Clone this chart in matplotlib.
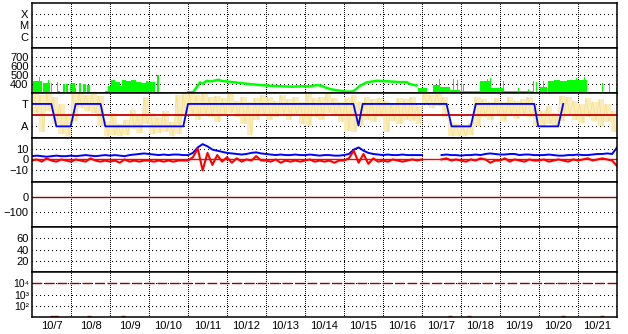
import numpy as np
import matplotlib.pyplot as plt
from matplotlib.ticker import FixedLocator, NullLocator, NullFormatter

plt.rcParams['font.family'] = ['Liberation Sans', 'DejaVu Sans']

# --- data, time in hours from 10/7 00:00 ---
day_labels = ['10/7', '10/8', '10/9', '10/10', '10/11', '10/12', '10/13', '10/14',
              '10/15', '10/16', '10/17', '10/18', '10/19', '10/20', '10/21']

# solar wind speed: noisy periods as bars (start, end, top), quiet period as line
wind_bar_start = [0.6, 4.4, 7.0, 9.8, 11.6, 15.2, 16.0, 19.1, 21.1, 23.2, 24.8, 26.3, 28.7, 31.4, 34.0,
                  44.7, 46.8, 48.8, 50.9, 54.0, 55.4, 58.0, 61.0, 64.0, 67.3, 70.4, 71.4, 76.7, 95.6,
                  237.8, 247.0, 250.4, 251.0, 257.3, 259.0, 261.5, 263.4, 264.1, 265.2, 275.7, 279.9,
                  282.0, 281.9, 289.8, 290.1, 299.0, 305.2, 308.2, 309.9, 312.6, 314.4, 317.8, 321.0,
                  325.0, 329.0, 334.2, 334.9, 339.6, 341.4, 350.5, 355.0, 359.1]
wind_bar_end = [6.2, 5.0, 10.9, 10.7, 12.2, 16.0, 17.0, 20.1, 22.2, 24.2, 26.3, 27.3, 30.4, 33.4, 35.5,
                46.8, 48.8, 50.9, 54.0, 55.4, 58.0, 61.0, 64.0, 67.3, 70.4, 71.4, 75.5, 78.0, 99.0,
                242.9, 250.7, 251.0, 257.3, 263.4, 259.6, 262.1, 275.7, 264.7, 265.8, 281.9, 280.5,
                282.6, 290.1, 290.4, 308.5, 299.6, 305.8, 308.8, 310.5, 316.7, 315.0, 321.0, 325.0,
                329.0, 334.2, 341.4, 335.5, 340.2, 359.8, 351.1, 355.6, 359.7]
wind_bar_top = [426, 470, 407, 440, 407, 418, 315, 396, 396, 396, 407, 352, 407, 396, 389,
                315, 370, 444, 420, 370, 440, 430, 438, 425, 407, 433, 418, 493, 315,
                355, 389, 452, 362, 333, 452, 444, 322, 407, 396, 426, 452,
                460, 350, 426, 320, 350, 345, 433, 418, 360, 426, 430, 440,
                433, 438, 444, 460, 470, 303, 407, 407, 350]
wind_line_t = [96, 99, 101.3, 103.4, 105, 107.5, 110, 114.7, 117, 119.8, 125, 130, 135, 140.4, 145,
               150.5, 155, 160.8, 166, 171, 175, 178, 181.4, 185, 189.6, 193.7, 197.8, 201.8, 206,
               212, 218, 226.6, 230.6, 232.6, 236.6]
wind_line_v = [303, 303, 359, 415, 400, 433, 425, 444, 430, 426, 415, 404, 395, 385, 380,
               374, 370, 367, 372, 370, 385, 378, 352, 335, 322, 311, 315, 378, 415,
               433, 428, 418, 418, 396, 381]

# IMF angle spread, 4 h bins (high / low)
angle_hi = [3.9, 3.8, 3.9, 3.6, 3.0, 2.0, 3.9, 3.9, 3.8, 3.9, 3.7, 1.5, 2.2, 1.2, 1.6, 2.5, 2.0, 3.6,
            2.2, 1.8, 2.4, 1.4, 3.8, 3.9, 3.9, 3.8, 3.9, 3.6, 3.7, 3.5, 3.9, 3.3, 3.6, 3.2, 3.5, 3.8,
            3.6, 3.3, 3.8, 3.4, 3.6, 3.2, 3.9, 3.5, 3.6, 3.9, 3.5, 3.2, 3.5, 3.8, 3.2, 3.6, 3.4, 3.5,
            3.3, 3.0, 3.5, 3.4, 3.6, 2.8, 3.9, 3.8, 3.9, 3.6, 1.4, 1.2, 1.0, 1.3, 3.6, 3.4, 3.2, 3.5,
            3.2, 3.6, 3.3, 3.4, 3.6, 2.6, 2.4, 2.8, 2.2, 3.7, 3.6, 3.3, 3.0, 3.5, 3.2, 3.4, 3.0, 2.4]
angle_lo = [2.2, 0.5, 2.4, 1.2, 0.3, 0.1, 1.5, 2.6, 2.4, 2.2, 1.0, 0.1, 0.2, 0.1, 0.2, 0.8, 0.4, 1.2,
            0.3, 0.4, 0.5, 0.1, 0.3, 1.8, 2.0, 1.6, 2.0, 1.8, 1.4, 2.0, 2.2, 1.8, 1.2, 0.2, 1.6, 2.0,
            1.6, 1.8, 2.1, 1.6, 2.0, 1.2, 1.0, 1.8, 1.6, 2.2, 1.9, 1.4, 0.6, 0.5, 1.0, 1.6, 1.4, 1.8,
            0.5, 1.5, 1.2, 1.6, 1.5, 1.2, 3.0, 2.6, 2.8, 1.8, 0.1, 0.1, 0.1, 0.2, 1.0, 1.8, 1.6, 1.9,
            1.5, 2.0, 1.7, 2.0, 1.8, 1.0, 0.9, 1.2, 1.0, 1.5, 2.0, 1.6, 1.3, 1.8, 1.5, 1.0, 1.4, 0.5]

# sector polarity (T = 3, A = 1)
sector_t = [0, 11.9, 15, 23.8, 26.9, 42.2, 45.1, 93.1, 96, 197.8, 200.9, 203.5, 255.1, 258.2,
            270, 273.1, 309.1, 311.5, 323.8, 326.9]
sector_v = [3, 3, 1, 1, 3, 3, 1, 1, 3, 3, 1.07, 3, 3, 1, 1, 3, 3, 1, 1, 3]

# magnetic field, 3 h steps
bt = [3, 3.5, 3, 2.5, 3, 3.5, 3, 3,
      3.5, 3, 3.5, 4, 3.5, 3, 3.5, 4,
      3.5, 4, 3.5, 3, 4, 4.5, 5, 5.5,
      5, 4.5, 4, 4.5, 4, 4.5, 4.5, 4,
      4, 6, 11, 14, 12, 9, 8, 7,
      6, 5.5, 5, 4.5, 5, 6, 6.5, 5.5,
      5, 4.5, 4, 4.5, 4, 4, 4.5, 4,
      4, 4.5, 4, 3.5, 4, 4, 3.5, 3.5,
      4, 5, 9, 11, 8, 6, 5, 4.5,
      4, 4.5, 4, 4, 4.5, 4, 4, 4,
      4, np.nan, np.nan, np.nan, 4, 4.5, 4, 4,
      3.5, 4, 4, 4.5, 4, 5, 5.5, 5,
      4.5, 4.5, 5, 5, 4, 4.5, 4.5, 4,
      4, 4, 4.5, 4, 3.5, 3.5, 4, 4,
      4.5, 4, 4, 4.5, 5, 5, 5.5, 5,
      11]
bz = [-1, 0, -2, 1, -1, -2, 0, -1,
      -2, 0, -1, -2, 1, -1, -2, -1,
      -2, -1, -3, 0, -2, -1, -2, -1,
      -1, -2, -1, -2, -1, -2, -1, -1,
      -1, 2, 10, -10, 6, -5, 4, -2,
      2, -3, 1, -2, 0, -1, 3, -1,
      -1, -2, 0, -3, -1, -2, -1, -2,
      -1, 0, -2, -1, -2, -1, -3, -1,
      -1, 1, 8, -3, 5, -4, 1, -2,
      -1, -2, 0, -1, -2, -1, 0, -1,
      0, np.nan, np.nan, np.nan, 0, 1, -1, 0,
      -1, -2, 0, -1, 1, 0, -3, -1,
      -1, 1, -2, 0, -1, -2, 0, -1,
      -1, 0, -2, -1, 0, -1, -2, 0,
      -1, 0, 1, -1, 0, 1, 0, -1,
      -6]

# particle flux points at the floor of the log panel
flux_t = [12.1, 14.8, 35.3, 56.2, 257.2, 268.9, 326.8, 350.8]
flux_v = [12, 12, 12, 12, 12, 12, 12, 12]


fig = plt.figure(figsize=(6.28, 3.34), dpi=100)
axes = fig.subplots(7, 1, sharex=True)
fig.subplots_adjust(left=32 / 628, right=617 / 628, top=1 - 3 / 334, bottom=17 / 334, hspace=0)

dot_h = (0, (1, 3))
dot_v = (0, (1, 2))

for ax in axes:
    ax.set_xlim(0, 360)
    for s in ax.spines.values():
        s.set_linewidth(1.1)
        s.set_color('black')
    ax.tick_params(which='both', length=0, labelsize=8, pad=2.5)
    ax.yaxis.grid(True, linestyle=dot_h, color='black', linewidth=0.72, antialiased=False)
    ax.xaxis.grid(True, which='major', linestyle=dot_v, color='black', linewidth=0.72,
                  antialiased=False)
    ax.set_axisbelow(True)

ax0 = axes[-1]
ax0.xaxis.set_major_locator(FixedLocator(np.arange(24, 360, 24)))
ax0.xaxis.set_major_formatter(NullFormatter())
ax0.xaxis.set_minor_locator(FixedLocator(np.arange(12, 360, 24)))
ax0.set_xticklabels(day_labels, minor=True)
ax0.tick_params(axis='x', which='minor', labelsize=8, pad=3)

# 1: flare class
ax = axes[0]
ax.set_ylim(0, 4)
ax.set_yticks([1, 2, 3], ['C', 'M', 'X'])

# 2: solar wind speed
ax = axes[1]
ax.set_ylim(300, 800)
ax.set_yticks([400, 500, 600, 700])
ws = np.array(wind_bar_start)
we = np.array(wind_bar_end)
ax.bar(ws, np.array(wind_bar_top) - 300, width=np.maximum(we - ws, 0.6), bottom=300,
       align='edge', color='#00ff00', linewidth=0)
ax.plot(wind_line_t, wind_line_v, color='#00ff00', linewidth=1.8)

# 3: sector
ax = axes[2]
ax.set_ylim(0, 4)
ax.set_yticks([1, 3], ['A', 'T'])
bins = np.arange(len(angle_hi)) * 4
ax.fill_between(np.append(bins, 360), np.append(angle_lo, angle_lo[-1]),
                np.append(angle_hi, angle_hi[-1]), step='post', color='#fbedbb', linewidth=0)
zz_t = np.column_stack([bins + 1, bins + 3]).ravel()
zz_v = np.column_stack([angle_hi, angle_lo]).ravel()
ax.plot(zz_t, zz_v, color='#f6de8a', linewidth=0.5)
ax.axhline(2, color='#c80000', linewidth=1.3)
ax.plot(sector_t, sector_v, color='#0000ff', linewidth=1.3)

# 4: Bt / Bz
ax = axes[3]
ax.set_ylim(-21, 20)
ax.set_yticks([-10, 0, 10])
hrs = np.arange(len(bt)) * 3
ax.axhline(0, color='#ff0000', linewidth=1.0)
ax.plot(hrs, bt, color='#0000ff', linewidth=1.4)
ax.plot(hrs, bz, color='#ff0000', linewidth=1.5)

# 5: Dst
ax = axes[4]
ax.set_ylim(-200, 100)
ax.set_yticks([-100, 0])
ax.axhline(0, color='#a00000', linewidth=1.0)

# 6
ax = axes[5]
ax.set_ylim(0, 80)
ax.set_yticks([20, 40, 60])

# 7: flux (log)
ax = axes[6]
ax.set_yscale('log')
ax.set_ylim(10, 1e5)
ax.set_yticks([1e2, 1e3, 1e4], ['10\u00b2', '10\u00b3', '10\u2074'])
ax.yaxis.set_minor_locator(NullLocator())
ax.tick_params(axis='y', labelsize=7.5, pad=2)
ax.axhline(1e4, color='#a00000', linewidth=1.0, linestyle=(0, (7, 2)))
ax.plot(flux_t, flux_v, linestyle='none', marker='_', markersize=3, color='#ff0000')

fig.savefig('out.png', dpi=100)
